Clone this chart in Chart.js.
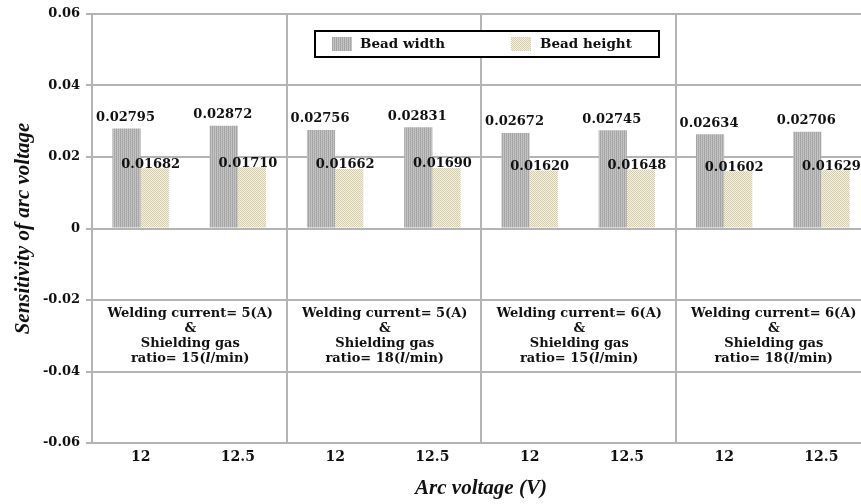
<!DOCTYPE html>
<html>
<head>
<meta charset="utf-8">
<script src="https://cdn.jsdelivr.net/npm/chart.js@4.4.1/dist/chart.umd.min.js"></script>
<style>
  html, body { margin: 0; padding: 0; background: #fff; overflow: hidden; }
  #wrap { width: 880px; height: 504px; }
</style>
</head>
<body>
<div id="wrap"><canvas id="sensChart" width="880" height="504"></canvas></div>
<script>
// arc voltage categories (two per welding condition)
const voltages = ["12", "12.5", "12", "12.5", "12", "12.5", "12", "12.5"];
const beadWidth = [0.02795, 0.02872, 0.02756, 0.02831, 0.02672, 0.02745, 0.02634, 0.02706];
const beadHeight = [0.01682, 0.01710, 0.01662, 0.01690, 0.01620, 0.01648, 0.01602, 0.01629];
const currents = ["5", "5", "6", "6"];
const gasRatios = ["15", "18", "15", "18"];
const yTicks = [-0.06, -0.04, -0.02, 0, 0.02, 0.04, 0.06];

const SERIF = "'DejaVu Serif', serif";
const TIMES = "'Liberation Serif', 'Times New Roman', serif";
const GRID = "#b4b4b4";

function makePattern(rows) {
  const c = document.createElement("canvas");
  c.width = rows[0].length;
  c.height = rows.length;
  const cx = c.getContext("2d");
  rows.forEach((row, y) => row.forEach((col, x) => {
    cx.fillStyle = col;
    cx.fillRect(x, y, 1, 1);
  }));
  return cx.createPattern(c, "repeat");
}

const widthFill = makePattern([
  ["#a2a2a2", "#c8c8c8", "#acacac", "#c0c0c0"],
  ["#a8a8a8", "#bebebe", "#a4a4a4", "#c6c6c6"]
]);
const heightFill = makePattern([
  ["#d4cca4", "#f6f3e6"],
  ["#f6f3e6", "#d4cca4"]
]);

// value labels above each bar
const valueLabels = {
  id: "valueLabels",
  afterDatasetsDraw(chart) {
    const ctx = chart.ctx;
    ctx.save();
    ctx.font = "bold 13px " + SERIF;
    ctx.fillStyle = "#111";
    ctx.textAlign = "center";
    ctx.textBaseline = "middle";
    chart.getDatasetMeta(0).data.forEach((bar, i) => {
      ctx.fillText(beadWidth[i].toFixed(5), bar.x - 1, bar.y - 11);
    });
    chart.getDatasetMeta(1).data.forEach((bar, i) => {
      ctx.fillText(beadHeight[i].toFixed(5), bar.x - 4, bar.y - 4);
    });
    ctx.restore();
  }
};

// condition text inside each group of two categories
const conditionText = {
  id: "conditionText",
  afterDatasetsDraw(chart) {
    const ctx = chart.ctx;
    const xs = chart.scales.x, ys = chart.scales.y;
    const y0 = ys.getPixelForValue(-0.0238);
    const lh = 15;
    ctx.save();
    ctx.fillStyle = "#111";
    ctx.textBaseline = "middle";
    const bold = "bold 13px " + SERIF;
    const boldIt = "bold italic 13px " + SERIF;
    currents.forEach((cur, g) => {
      const cx = (xs.getPixelForValue(2 * g) + xs.getPixelForValue(2 * g + 1)) / 2 + 1;
      ctx.font = bold;
      ctx.textAlign = "center";
      ctx.fillText("Welding current= " + cur + "(A)", cx, y0);
      ctx.fillText("&", cx, y0 + lh);
      ctx.fillText("Shielding gas", cx, y0 + 2 * lh);
      // last line has an italic "l"
      const parts = [["ratio= " + gasRatios[g] + "(", bold], ["l", boldIt], ["/min)", bold]];
      let total = 0;
      parts.forEach(p => { ctx.font = p[1]; total += ctx.measureText(p[0]).width; });
      let x = cx - total / 2;
      ctx.textAlign = "left";
      parts.forEach(p => {
        ctx.font = p[1];
        ctx.fillText(p[0], x, y0 + 3 * lh);
        x += ctx.measureText(p[0]).width;
      });
    });
    ctx.restore();
  }
};

// boxed legend at the top
const boxLegend = {
  id: "boxLegend",
  afterDraw(chart) {
    const ctx = chart.ctx;
    ctx.save();
    ctx.fillStyle = "#fff";
    ctx.fillRect(315, 31, 344, 26);
    ctx.lineWidth = 2;
    ctx.strokeStyle = "#000";
    ctx.strokeRect(315, 31, 344, 26);
    ctx.fillStyle = widthFill;
    ctx.fillRect(332, 37, 20, 14);
    ctx.fillStyle = heightFill;
    ctx.fillRect(511, 37, 20, 14);
    ctx.fillStyle = "#111";
    ctx.font = "bold 13.5px " + SERIF;
    ctx.textBaseline = "middle";
    ctx.textAlign = "left";
    ctx.fillText("Bead width", 360, 44);
    ctx.fillText("Bead height", 540, 44);
    ctx.restore();
  }
};

new Chart(document.getElementById("sensChart"), {
  type: "bar",
  data: {
    labels: voltages,
    datasets: [
      { label: "Bead width", data: beadWidth, backgroundColor: widthFill },
      { label: "Bead height", data: beadHeight, backgroundColor: heightFill }
    ]
  },
  options: {
    responsive: false,
    animation: false,
    layout: { padding: { top: 14, right: 10, left: 0, bottom: 0 } },
    datasets: { bar: { categoryPercentage: 0.58, barPercentage: 1 } },
    plugins: { legend: { display: false }, tooltip: { enabled: false } },
    scales: {
      x: {
        afterFit(scale) { scale.height = 61; },
        grid: {
          offset: true,
          drawTicks: false,
          lineWidth: 2,
          color: ctx => (ctx.index % 2 === 0 && ctx.index > 0) ? GRID : "rgba(0,0,0,0)"
        },
        border: { display: false },
        ticks: { color: "#111", padding: 6, font: { family: SERIF, size: 14, weight: "bold" } },
        title: {
          display: true,
          text: "Arc voltage (V)",
          color: "#111",
          padding: { top: 0, bottom: 3 },
          font: { family: TIMES, size: 21, weight: "bold", style: "italic" }
        }
      },
      y: {
        min: -0.06,
        max: 0.06,
        afterFit(scale) { scale.width = 92; },
        afterBuildTicks(scale) { scale.ticks = yTicks.map(v => ({ value: v })); },
        grid: { color: GRID, lineWidth: 2, tickLength: 6 },
        border: { display: true, color: GRID, width: 2 },
        ticks: {
          color: "#111",
          padding: 6,
          font: { family: SERIF, size: 13, weight: "bold" },
          callback: v => Math.abs(v) < 1e-9 ? "0" : v.toFixed(2)
        },
        title: {
          display: true,
          text: "Sensitivity of arc voltage",
          color: "#111",
          padding: { top: 11, bottom: 0 },
          font: { family: TIMES, size: 21, weight: "bold", style: "italic" }
        }
      }
    }
  },
  plugins: [valueLabels, conditionText, boxLegend]
});
</script>
</body>
</html>
